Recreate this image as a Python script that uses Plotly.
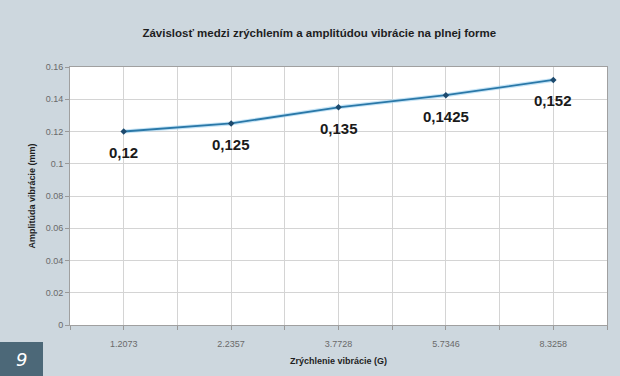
import plotly.graph_objects as go

# Vibration acceleration (G) categories and measured amplitude (mm)
categories = ["1.2073", "2.2357", "3.7728", "5.7346", "8.3258"]
amplitude = [0.12, 0.125, 0.135, 0.1425, 0.152]
value_labels = ["0,12", "0,125", "0,135", "0,1425", "0,152"]
y_ticks = [0, 0.02, 0.04, 0.06, 0.08, 0.1, 0.12, 0.14, 0.16]
y_tick_text = ["0", "0.02", "0.04", "0.06", "0.08", "0.1", "0.12", "0.14", "0.16"]

pos = list(range(len(categories)))
font = "Liberation Sans, Arial, sans-serif"

fig = go.Figure()
# soft halo under the line
fig.add_trace(go.Scatter(x=pos, y=amplitude, mode="lines",
                         line=dict(color="rgba(160,210,240,0.6)", width=4),
                         hoverinfo="skip", showlegend=False))
fig.add_trace(go.Scatter(
    x=pos, y=amplitude, mode="lines+markers",
    line=dict(color="#2a78a8", width=1.8),
    marker=dict(symbol="diamond", size=5, color="#1d4a6e"),
    showlegend=False))

# value labels under each point
for xi, yi, lab in zip(pos, amplitude, value_labels):
    fig.add_annotation(x=xi, y=yi, text=f"<b>{lab}</b>", showarrow=False,
                       yshift=-21, xanchor="center", yanchor="middle",
                       font=dict(family=font, size=15, color="#1a1a1a"))

fig.update_layout(
    width=620, height=376,
    margin=dict(l=70, r=13, t=67, b=51),
    paper_bgcolor="#cdd7de", plot_bgcolor="white",
    title=dict(text="<b>Závislosť medzi zrýchlením a amplitúdou vibrácie na plnej forme</b>",
               x=0.515, xanchor="center", y=0.912, yanchor="middle",
               font=dict(family=font, size=11.5, color="#1e1e1e")),
    font=dict(family=font),
)
fig.update_xaxes(
    range=[-0.5, 4.5], tickvals=pos, ticktext=categories,
    ticks="", ticklabelstandoff=10, showgrid=True, gridcolor="#d4d4d4", gridwidth=1,
    minor=dict(dtick=0.5, tick0=-0.5, ticks="outside", ticklen=4,
               tickcolor="#999999", showgrid=True, gridcolor="#d4d4d4"),
    tickfont=dict(size=9, color="#6a6a6a"),
    showline=True, linecolor="#a0a0a0", linewidth=1, mirror=True,
    zeroline=False, fixedrange=True,
    title=dict(text="<b>Zrýchlenie vibrácie (G)</b>", standoff=9,
               font=dict(size=9, color="#1e1e1e")),
)
fig.update_yaxes(
    range=[0, 0.16], tickvals=y_ticks, ticktext=y_tick_text,
    ticks="outside", ticklen=4, tickcolor="#999999",
    showgrid=True, gridcolor="#d4d4d4", gridwidth=1,
    tickfont=dict(size=9, color="#6a6a6a"),
    showline=True, linecolor="#a0a0a0", linewidth=1, mirror=True,
    zeroline=False, fixedrange=True,
    title=dict(text="<b>Amplitúda vibrácie (mm)</b>", standoff=8,
               font=dict(size=9, color="#1e1e1e")),
)

# figure number badge in the lower-left corner
fig.add_shape(type="rect", xref="paper", yref="paper",
              x0=-70 / 537, x1=-27 / 537, y0=-51 / 258, y1=-17 / 258,
              fillcolor="#4c6878", line=dict(width=0), layer="above")
fig.add_annotation(text="<i>9</i>", xref="paper", yref="paper",
                   x=-48.5 / 537, y=-34 / 258, showarrow=False,
                   font=dict(family="DejaVu Sans, sans-serif", size=18, color="white"),
                   xanchor="center", yanchor="middle")

fig.write_html("out.html")
